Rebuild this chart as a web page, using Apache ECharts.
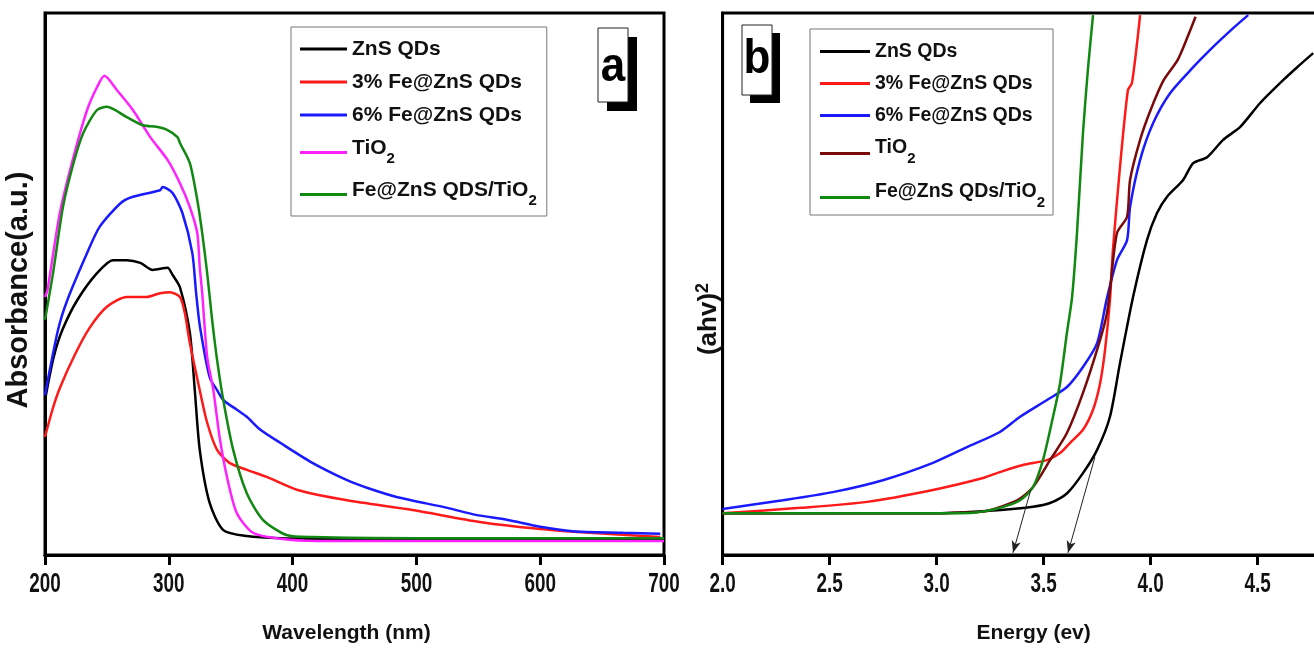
<!DOCTYPE html>
<html>
<head>
<meta charset="utf-8">
<script src="https://cdn.jsdelivr.net/npm/echarts@6/dist/echarts.min.js"></script>
<style>
  html, body { margin: 0; padding: 0; background: #fff; }
  #chart { width: 1314px; height: 648px; }
</style>
</head>
<body>
<div id="chart"></div>
<script>
// ---- Panel a: UV-Vis absorbance, wavelength (nm) vs absorbance (a.u.) ----
const wavelengthTicks = [200, 300, 400, 500, 600, 700];

const absZnS = [[200,0.286],[207,0.365],[214,0.415],[226,0.470],[242,0.520],[255,0.544],[266,0.544],[277,0.539],[287,0.526],[299,0.530],[303,0.517],[309,0.494],[317,0.410],[321,0.304],[325,0.194],[333,0.096],[344,0.046],[363,0.035],[390,0.031],[450,0.030],[550,0.030],[700,0.030]];
const absFe3 = [[200,0.218],[206,0.268],[212,0.308],[224,0.369],[236,0.419],[250,0.458],[266,0.476],[282,0.476],[293,0.483],[301,0.485],[309,0.476],[313,0.446],[317,0.391],[325,0.304],[331,0.244],[339,0.194],[349,0.170],[363,0.157],[379,0.144],[404,0.120],[444,0.101],[497,0.083],[551,0.061],[600,0.048],[640,0.041],[697,0.033]];
const absFe6 = [[200,0.295],[210.5,0.415],[218,0.470],[234,0.557],[244,0.605],[261,0.649],[271,0.661],[293,0.673],[295,0.679],[303,0.668],[311,0.631],[319,0.557],[322,0.485],[325,0.424],[333,0.328],[339,0.304],[344,0.286],[355,0.268],[363,0.255],[374,0.231],[390,0.207],[416,0.170],[444,0.138],[460,0.124],[484,0.107],[525,0.087],[548,0.074],[573,0.065],[600,0.052],[626,0.044],[667,0.041],[697,0.039]];
const absTiO2 = [[200,0.476],[202,0.489],[212,0.631],[223,0.734],[234,0.821],[242,0.863],[248,0.884],[258,0.858],[271,0.821],[285,0.771],[299,0.729],[309,0.686],[317,0.642],[323,0.594],[325,0.531],[327,0.483],[331,0.365],[336,0.304],[341,0.218],[347,0.144],[355,0.077],[368,0.041],[390,0.030],[420,0.026],[700,0.026]];
const absComposite = [[200,0.434],[206.5,0.520],[214.5,0.642],[223,0.723],[231,0.779],[242,0.821],[250,0.827],[266,0.808],[279,0.793],[290,0.790],[299,0.784],[307,0.771],[309,0.760],[317,0.723],[323,0.655],[327,0.594],[331,0.520],[335,0.434],[339,0.360],[344,0.286],[352,0.194],[363,0.114],[376,0.065],[395,0.037],[416,0.033],[500,0.031],[700,0.031]];

// ---- Panel b: Tauc plot, energy (eV) vs (ahv)^2 ----
const energyTicks = [2.0, 2.5, 3.0, 3.5, 4.0, 4.5];

const taucZnS = [[2.00,0.077],[3.00,0.077],[3.30,0.083],[3.45,0.089],[3.53,0.096],[3.61,0.114],[3.684,0.151],[3.75,0.194],[3.81,0.255],[3.857,0.354],[3.918,0.476],[3.983,0.581],[4.03,0.631],[4.077,0.661],[4.152,0.692],[4.199,0.723],[4.264,0.734],[4.339,0.766],[4.419,0.790],[4.512,0.834],[4.619,0.876],[4.685,0.900],[4.76,0.926]];
const taucFe3 = [[2.00,0.077],[2.362,0.087],[2.675,0.098],[2.983,0.120],[3.217,0.142],[3.296,0.153],[3.404,0.166],[3.516,0.175],[3.577,0.188],[3.624,0.207],[3.684,0.231],[3.731,0.268],[3.764,0.317],[3.787,0.378],[3.81,0.470],[3.824,0.563],[3.857,0.716],[3.894,0.858],[3.913,0.871],[3.951,0.996]];
const taucFe6 = [[2.00,0.085],[2.282,0.101],[2.515,0.116],[2.749,0.138],[2.983,0.170],[3.142,0.199],[3.296,0.227],[3.39,0.255],[3.516,0.286],[3.609,0.310],[3.684,0.347],[3.75,0.391],[3.796,0.474],[3.843,0.544],[3.89,0.581],[3.904,0.642],[3.951,0.729],[4.012,0.797],[4.091,0.852],[4.199,0.900],[4.278,0.932],[4.386,0.972],[4.456,0.996]];
const taucTiO2 = [[2.00,0.077],[3.00,0.077],[3.10,0.078],[3.217,0.080],[3.376,0.101],[3.45,0.125],[3.53,0.175],[3.609,0.225],[3.684,0.299],[3.764,0.397],[3.796,0.446],[3.81,0.489],[3.843,0.594],[3.89,0.624],[3.904,0.692],[3.951,0.766],[4.00,0.821],[4.061,0.876],[4.126,0.913],[4.173,0.956],[4.21,0.993]];
const taucComposite = [[2.00,0.077],[3.00,0.077],[3.17,0.078],[3.296,0.087],[3.39,0.101],[3.45,0.125],[3.497,0.175],[3.544,0.255],[3.577,0.317],[3.609,0.410],[3.633,0.476],[3.656,0.594],[3.684,0.779],[3.708,0.900],[3.731,0.996]];

// band-gap extrapolation arrows: [start, tip]
const gapArrows = [[[3.44, 0.120], [3.357, 0.004]], [[3.74, 0.181], [3.614, 0.004]]];

// legend labels ({t|..}{s|..} marks a subscript)
const labelsA = ['ZnS QDs', '3% Fe@ZnS QDs', '6% Fe@ZnS QDs', '{t|TiO}{s|2}', '{t|Fe@ZnS QDS/TiO}{s|2}'];
const labelsB = ['ZnS QDs', '3% Fe@ZnS QDs', '6% Fe@ZnS QDs', '{t|TiO}{s|2}', '{t|Fe@ZnS QDs/TiO}{s|2}'];

const colorsA = ['#000000', '#ff1a1a', '#1a1aff', '#ff22ff', '#118811'];
const colorsB = ['#000000', '#ff1a1a', '#1a1aff', '#7a0a0a', '#118811'];

const seriesA = [absZnS, absFe3, absFe6, absTiO2, absComposite];
const seriesB = [taucZnS, taucFe3, taucFe6, taucTiO2, taucComposite];

const FONT = "'Liberation Sans', Arial, sans-serif";

// main text sits at the top of the line box, the subscript hangs below it
function legendRich(size, subSize, lh, pad, boxH) {
  return {
    t: { fontFamily: FONT, fontWeight: 'bold', fontSize: size, lineHeight: lh, height: lh, verticalAlign: 'top', color: '#111' },
    s: { fontFamily: FONT, fontWeight: 'bold', fontSize: subSize, height: subSize, lineHeight: boxH, verticalAlign: 'top', padding: [pad, 0, 0, 0], color: '#111' }
  };
}

function makeXAxis(gridIndex, min, max, interval, name, namePad) {
  return {
    type: 'value', gridIndex, min, max, interval,
    name, nameLocation: 'middle', nameGap: 68,
    nameTextStyle: { fontFamily: FONT, fontWeight: 'bold', fontSize: 21, color: '#111', padding: namePad },
    axisLine: { show: true, lineStyle: { color: '#000', width: 3 } },
    axisTick: { show: true, inside: false, length: 10, lineStyle: { color: '#000', width: 3 } },
    // tick labels are drawn below as condensed text
    axisLabel: { show: false },
    splitLine: { show: false }
  };
}

function makeYAxis(gridIndex, name, nameStyle, nameGap) {
  return {
    type: 'value', gridIndex, min: 0, max: 1,
    name, nameLocation: 'middle', nameRotate: 90, nameGap,
    nameTextStyle: nameStyle,
    axisLine: { show: true, lineStyle: { color: '#000', width: 3 } },
    axisTick: { show: false }, axisLabel: { show: false }, splitLine: { show: false }
  };
}

const series = [];
seriesA.forEach((d, i) => series.push({
  name: 'a' + i, type: 'line', xAxisIndex: 0, yAxisIndex: 0, data: d,
  showSymbol: false, symbol: 'none', smooth: 0.25, clip: true,
  lineStyle: { color: colorsA[i], width: 2.5 }, itemStyle: { color: colorsA[i] }
}));
seriesB.forEach((d, i) => series.push({
  name: 'b' + i, type: 'line', xAxisIndex: 1, yAxisIndex: 1, data: d,
  showSymbol: false, symbol: 'none', smooth: 0.25, clip: true,
  lineStyle: { color: colorsB[i], width: 2.5 }, itemStyle: { color: colorsB[i] },
  markLine: i === 0 ? {
    silent: true, symbol: ['none', 'arrow'], symbolSize: [7, 12],
    label: { show: false },
    lineStyle: { color: '#222', width: 1, type: 'solid' },
    data: gapArrows.map(a => [{ coord: a[0] }, { coord: a[1] }])
  } : undefined
}));

function panelTag(letter, x, y, w, h, off, textY) {
  return {
    type: 'group', children: [
      { type: 'rect', shape: { x: x + off[0], y: y + off[1], width: w, height: h }, style: { fill: '#000' } },
      { type: 'rect', shape: { x, y, width: w, height: h }, style: { fill: '#fff', stroke: '#222', lineWidth: 1 } },
      { type: 'text', x: x + w / 2, y: textY, scaleY: 1.1, style: { text: letter, font: "bold 44px 'Liberation Sans', Arial, sans-serif", fill: '#000', align: 'center', verticalAlign: 'middle' } }
    ]
  };
}

const chart = echarts.init(document.getElementById('chart'), null, { renderer: 'canvas' });
chart.setOption({
  animation: false,
  backgroundColor: '#fff',
  grid: [
    { left: 45, top: 13, width: 619, height: 542, outerBoundsMode: 'none', containLabel: false, show: true, borderColor: '#000', borderWidth: 3, backgroundColor: 'transparent' },
    { left: 722.6, top: 13, width: 642, height: 542, outerBoundsMode: 'none', containLabel: false, show: true, borderColor: '#000', borderWidth: 3, backgroundColor: 'transparent' }
  ],
  xAxis: [
    makeXAxis(0, 200, 700, 100, 'Wavelength (nm)', [0, 16, 0, 0]),
    makeXAxis(1, 2, 5, 0.5, 'Energy (ev)', [0, 20, 0, 0])
  ],
  yAxis: [
    makeYAxis(0, 'Absorbance(a.u.)', { fontFamily: FONT, fontWeight: 'bold', fontSize: 29, color: '#111', padding: [0, 12, 0, 0] }, 12),
    makeYAxis(1, '{m|(ahv)}{p|2}', {
      color: '#111', padding: [0, 70, 0, 0],
      rich: {
        m: { fontFamily: FONT, fontWeight: 'bold', fontSize: 26, lineHeight: 28, verticalAlign: 'bottom' },
        p: { fontFamily: FONT, fontWeight: 'bold', fontSize: 18, lineHeight: 18, verticalAlign: 'top', padding: [0, 0, 18, 0] }
      }
    }, 1)
  ],
  legend: [
    {
      orient: 'vertical', left: 291, top: 27, padding: [11, 10, 6, 9], itemGap: 11,
      itemWidth: 47, itemHeight: 3, icon: 'rect',
      borderColor: '#777', borderWidth: 1, backgroundColor: '#fff',
      data: labelsA.map((_, i) => 'a' + i),
      formatter: n => labelsA[+n.slice(1)],
      textStyle: { fontFamily: FONT, fontWeight: 'bold', fontSize: 21, lineHeight: 22, color: '#111', rich: legendRich(21, 15, 22, 14, 31) },
      selectedMode: false
    },
    {
      orient: 'vertical', left: 810, top: 29, padding: [12, 8, 1, 10], itemGap: 11,
      itemWidth: 50, itemHeight: 3, icon: 'rect',
      borderColor: '#777', borderWidth: 1, backgroundColor: '#fff',
      data: labelsB.map((_, i) => 'b' + i),
      formatter: n => labelsB[+n.slice(1)],
      textStyle: { fontFamily: FONT, fontWeight: 'bold', fontSize: 19.5, lineHeight: 21, color: '#111', rich: legendRich(19.5, 15, 21, 14, 33) },
      selectedMode: false
    }
  ],
  series
});

// condensed tick labels, placed through each axis' own scale
function tickLabels(xAxisIndex, ticks, digits) {
  return ticks.map(v => {
    const p = chart.convertToPixel({ xAxisIndex, yAxisIndex: xAxisIndex }, [v, 0]);
    return {
      type: 'text', x: p[0], y: p[1] + 30, scaleX: 0.7, silent: true,
      style: { text: v.toFixed(digits), font: "bold 27px 'Liberation Sans', Arial, sans-serif", fill: '#111', align: 'center', verticalAlign: 'middle' }
    };
  });
}

chart.setOption({
  graphic: [
    panelTag('a', 598, 28, 30, 74, [9, 9], 68),
    panelTag('b', 742, 25, 30, 70, [8, 8], 60),
    ...tickLabels(0, wavelengthTicks, 0),
    ...tickLabels(1, energyTicks, 1)
  ]
});
</script>
</body>
</html>
